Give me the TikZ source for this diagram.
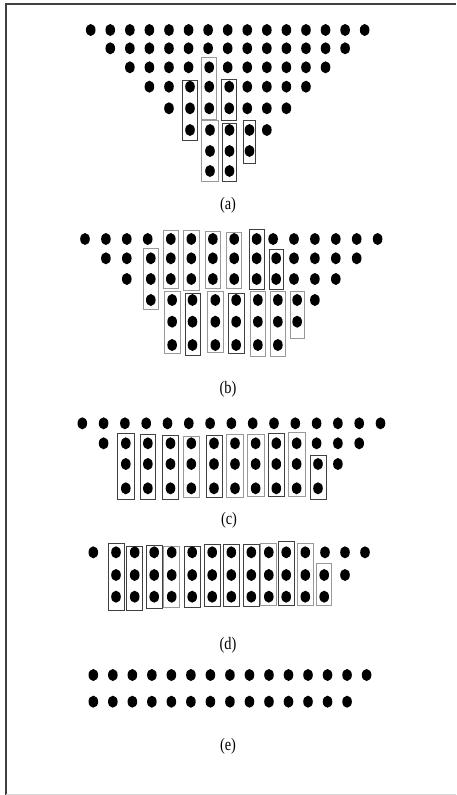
\documentclass[tikz,border=0pt]{standalone}
\usepackage{fontspec}
\setmainfont{Liberation Serif}
\newcommand\mydot[2]{\fill ({#1},{#2}) ellipse [x radius=4.8pt, y radius=6pt];}
% box with its dots centred: x1,x2,y1,y2,style,list of dot rows
\newcommand\cbox[6]{\draw[#5] (#1,#3) rectangle (#2,#4);
  \foreach \yy in {#6}{\mydot{(#1+#2)/2}{\yy}}}
\begin{document}
\begin{tikzpicture}[x=1pt,y=-1pt,
  boxd/.style={draw=black!75,line width=0.9pt},
  boxl/.style={draw=black!40,line width=0.9pt},
  lab/.style={font=\fontsize{17.5}{20}\selectfont, inner sep=0pt, xscale=0.82}]
\useasboundingbox (0,0) rectangle (456,795);
% frame
\draw[black!75,line width=2pt] (6,795) -- (6,4) -- (456,4);
\draw[black!15,line width=1pt] (6,794.5) -- (456,794.5);

% ---------- (a)
\foreach \y/\ks in {30/{0,...,14},48.3/{1,...,13},67.3/{2,3,4,5,7,8,9,10,11,12},
  86.7/{3,4,8,9,10,11},108.3/{4,8,9,10},130/{9}}{
  \foreach \k in \ks {\mydot{90.7+19.57*\k}{\y}}}
\cbox{201.7}{216.7}{57.3}{119}{boxl}{67.3,86.7,108.3}
\cbox{182.7}{197.3}{80}{140.7}{boxd}{86.7,108.3,130}
\cbox{221.7}{236.7}{79.3}{120.7}{boxd}{86.7,108.3}
\cbox{201.7}{218.3}{120.7}{181.7}{boxl}{130,151,171}
\cbox{222.3}{236.7}{123.3}{181}{boxd}{130,151,171}
\cbox{243.3}{255.7}{120.7}{163.3}{boxd}{130,151}
\node[lab] (la) at (228,205) {(a)};

% ---------- (b)
\foreach \y/\ks in {239/{0,1,2,3,9,10,11,12,13,14},258.3/{1,2,10,11,12,13},279/{2,10,11,12},300/{11}}{
  \foreach \k in \ks {\mydot{85+20.9*\k}{\y}}}
\cbox{163.3}{178.3}{230}{288.3}{boxl}{239,258.3,279}
\cbox{183.3}{199.3}{230}{290}{boxl}{239,258.3,279}
\cbox{205}{220.7}{231}{288.3}{boxl}{239,258.3,279}
\cbox{226.7}{241.7}{232.3}{288.3}{boxl}{239,258.3,279}
\cbox{249}{264.3}{229}{289}{boxd}{239,258.3,279}
\cbox{143.3}{158.3}{248.3}{309.3}{boxl}{258.3,279,300}
\cbox{269}{283.3}{249}{289.3}{boxd}{258.3,279}
\cbox{164.3}{180}{291.7}{353.3}{boxl}{300,321.7,345}
\cbox{185}{200}{293.3}{355}{boxd}{300,321.7,345}
\cbox{207.3}{223.3}{291.7}{352.7}{boxl}{300,321.7,345}
\cbox{228.3}{244}{293.3}{353.3}{boxd}{300,321.7,345}
\cbox{250}{265.7}{291.7}{356.7}{boxl}{300,321.7,345}
\cbox{270}{285.7}{291.7}{356.7}{boxl}{300,321.7,345}
\cbox{290}{304.3}{291}{338.3}{boxl}{300,321.7}
\node[lab] (lb) at (228,389) {(b)};

% ---------- (c)
\foreach \y/\ks in {423.3/{0,...,14},443.3/{1,11,12,13},464/{12}}{
  \foreach \k in \ks {\mydot{82.3+21.3*\k}{\y}}}
\cbox{117.3}{134.3}{433.3}{499.3}{boxd}{443.3,464,488.3}
\cbox{140}{155.7}{434.3}{499.3}{boxd}{443.3,464,488.3}
\cbox{162.7}{178.3}{435}{499.3}{boxd}{443.3,464,488.3}
\cbox{183.3}{199.3}{436}{497.7}{boxl}{443.3,464,488.3}
\cbox{206}{222}{435}{497.7}{boxd}{443.3,464,488.3}
\cbox{226.7}{243.3}{434.3}{497.7}{boxl}{443.3,464,488.3}
\cbox{247.3}{264}{434.3}{496.7}{boxl}{443.3,464,488.3}
\cbox{268.3}{284.3}{433.3}{496.7}{boxd}{443.3,464,488.3}
\cbox{288.3}{305}{432.7}{496.7}{boxl}{443.3,464,488.3}
\cbox{310}{326}{455}{499.3}{boxd}{464,488.3}
\node[lab] (lc) at (229,520) {(c)};

% ---------- (d)
\foreach \x/\t/\bt/\s in {116/25/225/boxd,134.7/35/225/boxd,154.2/30/220/boxd,171.7/35/218/boxl,
  192.2/33/218/boxd,212.2/28/215/boxd,231.3/28/215/boxd,251.3/28/213/boxd,268.8/25/210/boxl,
  286.2/20/210/boxd,305.3/25/210/boxl}{
  \cbox{\x-8}{\x+8}{535+\t/3}{535+\bt/3}{\s}{552.3,575,596.7}}
\mydot{93.3}{552.3}
\mydot{325}{552.3}\mydot{345}{552.3}\mydot{365}{552.3}
\mydot{345}{575}
\cbox{316.7}{331.7}{563.3}{605}{boxl}{575,596.7}
\node[lab] (ld) at (228,645) {(d)};

% ---------- (e)
\foreach \k in {0,...,14}{\mydot{93.3+19.52*\k}{675}}
\foreach \k in {0,...,13}{\mydot{93.3+19.52*\k}{701.7}}
\node[lab] (le) at (228,746) {(e)};
\end{tikzpicture}
\end{document}
